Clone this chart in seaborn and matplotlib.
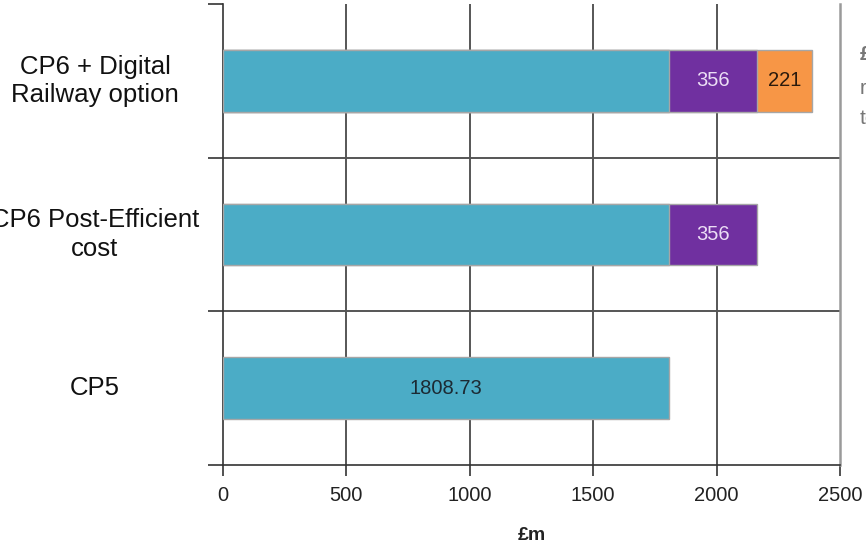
import matplotlib
matplotlib.use("Agg")
import matplotlib.pyplot as plt
import seaborn as sns
import pandas as pd

# Cost build-up per control period (£m)
categories = ["CP6 + Digital\nRailway option", "CP6 Post-Efficient\ncost", "CP5"]
base_cost = [1808.73, 1808.73, 1808.73]
post_efficient = [356, 356, 0]
digital_railway = [221, 0, 0]
x_ticks = [0, 500, 1000, 1500, 2000, 2500]

teal = "#4BACC6"
purple = "#7030A0"
orange = "#F79646"

sns.set_theme(style="white")
plt.rcParams["font.family"] = ["Liberation Sans", "DejaVu Sans"]

df = pd.DataFrame({
    "category": categories,
    "base": base_cost,
    "post": post_efficient,
    "digital": digital_railway,
})
df["cum_post"] = df["base"] + df["post"]
df["cum_digital"] = df["cum_post"] + df["digital"]

fig = plt.figure(figsize=(8.66, 5.43), dpi=100)
ax = fig.add_axes([223 / 866, 78 / 543, 617 / 866, 461 / 543])

# Stacked bars: draw cumulative totals from the outermost segment inward
bar_kw = dict(y="category", order=categories, width=0.4,
              edgecolor="#a6a6a6", linewidth=1.0, ax=ax, orient="y")
sns.barplot(data=df[df["digital"] > 0], x="cum_digital", color=orange,
            saturation=1, **bar_kw)
sns.barplot(data=df[df["post"] > 0], x="cum_post", color=purple,
            saturation=1, **bar_kw)
sns.barplot(data=df, x="base", color=teal, saturation=1, **bar_kw)

for p in ax.patches:
    p.set_zorder(3)

# Segment value labels
for i, row in df.iterrows():
    if row["post"] > 0:
        ax.text(row["base"] + row["post"] / 2, i, f"{row['post']:.0f}",
                ha="center", va="center", fontsize=14.5, color="#EBDDF5", zorder=5)
    if row["digital"] > 0:
        ax.text(row["cum_post"] + row["digital"] / 2, i, f"{row['digital']:.0f}",
                ha="center", va="center", fontsize=14.5, color="#2b1a0c", zorder=5)
    if row["post"] == 0 and row["digital"] == 0:
        ax.text(row["base"] / 2, i, f"{row['base']:.2f}",
                ha="center", va="center", fontsize=14.5, color="#1c2a33", zorder=5)

# Axes limits and ticks
n = len(categories)
ax.set_xlim(x_ticks[0], x_ticks[-1])
ax.set_ylim(n - 0.5, -0.5)
ax.set_xticks(x_ticks)
ax.set_xticklabels([str(t) for t in x_ticks], fontsize=14.5, color="#222222")
ax.set_yticks([k - 0.5 for k in range(n + 1)])
ax.set_yticklabels([])

ax.tick_params(axis="x", direction="out", length=8, width=1.2,
               color="#333333", bottom=True, pad=7)
ax.tick_params(axis="y", direction="out", length=11, width=1.2,
               color="#333333", left=True)
ax.grid(False)

# Value gridlines at the inner x ticks, separators between categories
for t in x_ticks[1:-1]:
    ax.axvline(t, color="#3a3a3a", linewidth=1.2, zorder=1)
for k in range(n - 1):
    ax.axhline(k + 0.5, color="#555555", linewidth=1.4, zorder=1)

for side in ("left", "bottom"):
    ax.spines[side].set_color("#333333")
    ax.spines[side].set_linewidth(1.2)
ax.spines["top"].set_visible(False)
ax.spines["right"].set_color("#9a9a9a")
ax.spines["right"].set_linewidth(1.8)

# Category labels, centred in the left margin
label_x = (95 - 223) / 617
for i, name in enumerate(categories):
    ax.text(label_x, i, name, transform=ax.get_yaxis_transform(),
            ha="center", va="center", multialignment="center",
            fontsize=18.5, color="#111111", linespacing=1.22)

ax.set_xlabel("£m", fontsize=14, fontweight="bold", color="#222222", labelpad=16)
ax.set_ylabel("")

# Side note running off the right edge
note_x = 860 / 866
fig.text(note_x, 1 - 55 / 543, "£221m", fontsize=15, fontweight="bold",
         color="#777777", va="center", ha="left")
fig.text(note_x, 1 - 88 / 543, "relates", fontsize=15, color="#777777",
         va="center", ha="left")
fig.text(note_x, 1 - 118 / 543, "to", fontsize=15, color="#777777",
         va="center", ha="left")

fig.savefig("out.png", dpi=100)
